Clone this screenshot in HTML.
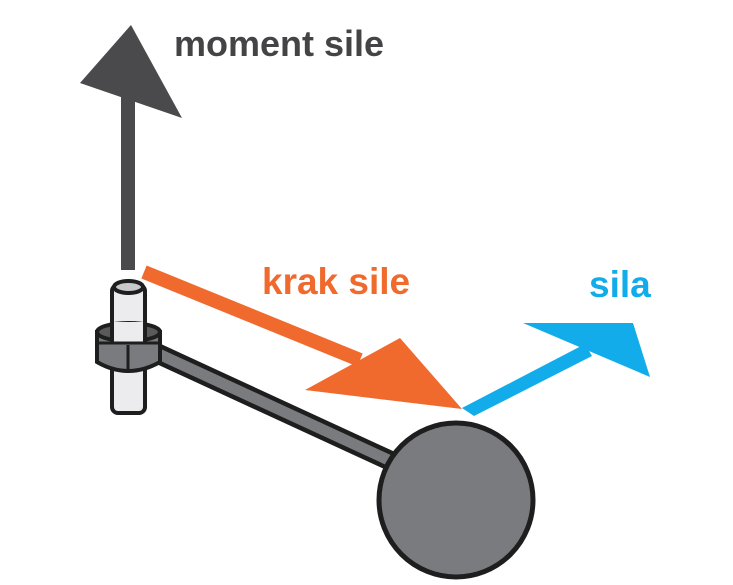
<!DOCTYPE html>
<html><head><style>html,body{margin:0;padding:0;background:#fff}svg{display:block}</style></head>
<body>
<svg width="733" height="585" viewBox="0 0 733 585" xmlns="http://www.w3.org/2000/svg">
<rect width="733" height="585" fill="#fff"/>
<!-- moment arrow -->
<rect x="121" y="90" width="14" height="180" fill="#4a4a4c"/>
<polygon points="131,25 80,83 182,118" fill="#4a4a4c"/>
<text x="174" y="56" font-family="Liberation Sans, sans-serif" font-weight="bold" font-size="36" fill="#444446">moment sile</text>
<!-- orange -->
<line x1="144" y1="272" x2="360" y2="360" stroke="#f06a2e" stroke-width="14"/>
<polygon points="400,338 305,390 462,409" fill="#f06a2e"/>
<text x="262" y="294" font-family="Liberation Sans, sans-serif" font-weight="bold" font-size="37" fill="#f06a2e">krak sile</text>
<!-- blue -->
<polygon points="462,408 585,344 592,356 474,416" fill="#12acea"/>
<polygon points="523,323 633,323 650,377" fill="#12acea"/>
<text x="589" y="297" font-family="Liberation Sans, sans-serif" font-weight="bold" font-size="37" fill="#12acea">sila</text>
<!-- rod -->
<line x1="150" y1="350" x2="395" y2="463" stroke="#1e1e1e" stroke-width="20"/>
<line x1="150" y1="350" x2="395" y2="463" stroke="#7a7b7e" stroke-width="11"/>
<!-- pin -->
<rect x="112" y="285" width="33" height="128" rx="6" fill="#ececee" stroke="#1e1e1e" stroke-width="4"/>
<ellipse cx="128.5" cy="287" rx="14.5" ry="6" fill="#c8c8ca" stroke="#1e1e1e" stroke-width="4"/>
<path d="M97,332 L97,362 Q128,380 160,362 L160,332 Z" fill="#7a7b7e" stroke="#1e1e1e" stroke-width="4"/>
<ellipse cx="128.5" cy="332" rx="31.5" ry="9" fill="#5a5a5c" stroke="#1e1e1e" stroke-width="4"/>
<rect x="112" y="322" width="33" height="20" fill="#ececee"/>
<line x1="112" y1="322" x2="112" y2="342" stroke="#1e1e1e" stroke-width="4"/>
<line x1="145" y1="322" x2="145" y2="342" stroke="#1e1e1e" stroke-width="4"/>
<line x1="97" y1="343" x2="160" y2="343" stroke="#1e1e1e" stroke-width="3"/>
<line x1="128" y1="345" x2="128" y2="372" stroke="#1e1e1e" stroke-width="3"/>
<!-- ball -->
<circle cx="456" cy="500" r="77" fill="#7a7b7e" stroke="#1e1e1e" stroke-width="5"/>
</svg>
</body></html>
